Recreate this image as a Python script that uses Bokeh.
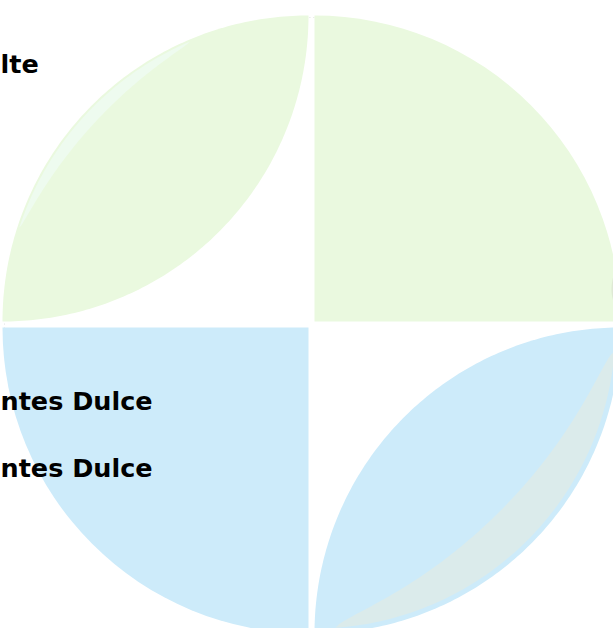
import numpy as np
from bokeh.plotting import figure
from bokeh.models import Range1d
from bokeh.core.properties import value
from bokeh.embed import file_html
from bokeh.resources import INLINE

# ---------------- data ----------------
quadrant_names = ["NE", "NW", "SW", "SE"]
quadrant_shape = ["quarter", "petal", "quarter", "petal"]
quadrant_group = ["green", "green", "blue", "blue"]

band_quadrant = ["NW", "SE", "NE"]
band_from_deg = [113.0, -86.0, 1.0]
band_to_deg = [162.0, -4.5, 10.0]
band_group = ["pale", "grey", "olive"]

labels = ["lte", "ntes Dulce", "ntes Dulce"]

# ---------------- style / geometry ----------------
R = 306.0            # radius in screen px (data units == px)
GAP = 3.0            # explode offset of each quadrant
QUAD_DIR = {"NE": (1, 1), "NW": (-1, 1), "SW": (-1, -1), "SE": (1, -1)}
QUAD_START = {"NE": 0, "NW": 90, "SW": 180, "SE": 270}
COLORS = {"green": "#eaf9df", "blue": "#cdebfa",
          "pale": "#eefbef", "grey": "#dbebeb", "olive": "#dfe9d5"}
BAND_INSET = {"pale": 2.0, "grey": 5.0, "olive": 0.5}
BAND_WIDTH = {"pale": 12.0, "grey": 40.0, "olive": 7.0}
BAND_POWER = {"pale": 0.7, "grey": 0.7, "olive": 1.0}
LABEL_X = [-311, -311, -311]
LABEL_Y = [261, -76, -143]

p = figure(width=613, height=628, output_backend="svg", toolbar_location=None,
           x_range=Range1d(-311, 302), y_range=Range1d(-304, 324),
           min_border=0, outline_line_color=None, background_fill_color="white")
p.axis.visible = False
p.grid.visible = False

# faint dotted outline of the full circle
p.circle(x=[0], y=[0], radius=R + 1, fill_color=None, line_color="#dedede",
         line_dash="1 3", line_width=1)


def corner(q):
    sx, sy = QUAD_DIR[q]
    return sx * GAP, sy * GAP


wx, wy, ws, we, wc = [], [], [], [], []
px, py, pc = [], [], []
for q, shape, grp in zip(quadrant_names, quadrant_shape, quadrant_group):
    cx, cy = corner(q)
    a0 = QUAD_START[q]
    if shape == "quarter":
        wx.append(cx); wy.append(cy); ws.append(a0); we.append(a0 + 90)
        wc.append(COLORS[grp])
    else:
        sx, sy = QUAD_DIR[q]
        ox, oy = cx + sx * R, cy + sy * R
        t = np.radians(np.linspace(a0, a0 + 90, 120))
        outer_x = cx + R * np.cos(t)
        outer_y = cy + R * np.sin(t)
        # inner arc: circle centred on the opposite corner of the quadrant square
        t2 = np.radians(np.linspace(a0 + 270, a0 + 180, 120))
        inner_x = ox + R * np.cos(t2)
        inner_y = oy + R * np.sin(t2)
        xs = np.concatenate([outer_x, inner_x[::-1]])
        ys = np.concatenate([outer_y, inner_y[::-1]])
        px.append(list(xs)); py.append(list(ys)); pc.append(COLORS[grp])

p.wedge(x=wx, y=wy, radius=R, start_angle=ws, end_angle=we,
        start_angle_units="deg", end_angle_units="deg",
        fill_color=wc, line_color=None)
p.patches(xs=px, ys=py, fill_color=pc, line_color=None)

# overlay crescents
bx, by, bc = [], [], []
for q, a1, a2, grp in zip(band_quadrant, band_from_deg, band_to_deg, band_group):
    cx, cy = corner(q)
    t = np.linspace(0, 1, 100)
    ang = np.radians(a1 + (a2 - a1) * t)
    r_out = R - BAND_INSET[grp]
    r_in = r_out - BAND_WIDTH[grp] * np.sin(np.pi * t) ** BAND_POWER[grp]
    xs = np.concatenate([cx + r_out * np.cos(ang), (cx + r_in * np.cos(ang))[::-1]])
    ys = np.concatenate([cy + r_out * np.sin(ang), (cy + r_in * np.sin(ang))[::-1]])
    bx.append(list(xs)); by.append(list(ys)); bc.append(COLORS[grp])
p.patches(xs=bx, ys=by, fill_color=bc, line_color=None)

p.text(x=LABEL_X, y=LABEL_Y, text=labels, text_font=value("DejaVu Sans"),
       text_font_style="bold", text_font_size="25.5px", text_align="left",
       text_baseline="alphabetic", text_color="#000000")

open("out.html", "w").write(file_html(p, INLINE))
